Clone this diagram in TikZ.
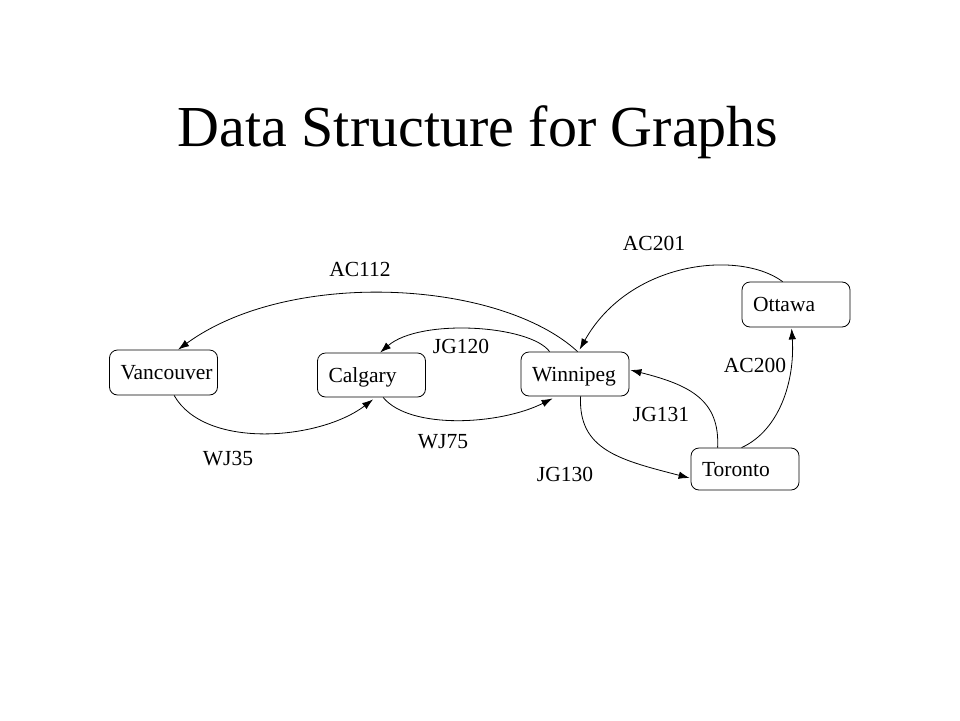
\documentclass[tikz,border=0pt]{standalone}
\usepackage{fontspec}
\setmainfont{Liberation Serif}
\usetikzlibrary{arrows.meta,calc}
\begin{document}
\begin{tikzpicture}[x=1pt,y=-1pt,
  city/.style={draw,rounded corners=8pt,line width=0.8pt,minimum height=44pt,
    text width=86pt,inner xsep=11pt,inner ysep=0pt,text height=16pt,text depth=2pt,
    align=left,font=\fontsize{21.5}{24}\selectfont},
  lbl/.style={font=\fontsize{21.5}{24}\selectfont,inner sep=0pt},
  edge/.style={line width=0.8pt,-{Latex[length=11pt,width=7.5pt]}}]
\useasboundingbox (0,0) rectangle (960,720);
\fill[white] (0,0) rectangle (960,720);
\node[anchor=base,font=\fontsize{58}{64}\selectfont,inner sep=0pt] (title) at (478,146) {Data Structure for Graphs};

\node[city,minimum height=45pt] (van) at (163.5,372.5) {Vancouver};
\node[city] (cal) at (371.5,375) {Calgary};
\node[city] (win) at (575,374) {Winnipeg};
\node[city,minimum height=45pt] (ott) at (796,304.5) {Ottawa};
\node[city,minimum height=42pt] (tor) at (745,469) {Toronto};

% AC112
\draw[edge] ($(win.north west)+(57,0)$) .. controls (500,280) and (290,268) .. ($(van.north west)+(69,0)$);
% JG120
\draw[edge] ($(win.north west)+(29,0)$) .. controls (530,325) and (420,318) .. ($(cal.north west)+(63,0)$);
% WJ35
\draw[edge] ($(van.south west)+(65,0)$) .. controls (205,450) and (320,440) .. ($(cal.south west)+(56,2)$);
% WJ75
\draw[edge] ($(cal.south west)+(66,0)$) .. controls (410,430) and (500,425) .. ($(win.south west)+(32,2)$);
% JG130
\draw[edge] ($(win.south west)+(60,0)$) .. controls (578,450) and (620,460) .. ($(tor.west)+(-1,9)$);
% JG131
\draw[edge] ($(tor.north west)+(27,0)$) .. controls (720,400) and (690,385) .. ($(win.east)+(1,-4)$);
% AC200
\draw[edge] ($(tor.north west)+(51,0)$) .. controls (780,430) and (795,380) .. ($(ott.south west)+(50,1)$);
% AC201
\draw[edge] ($(ott.north west)+(41,0)$) .. controls (740,250) and (630,260) .. ($(win.north west)+(59,-2)$);

\node[lbl] (l1) at (360,269) {AC112};
\node[lbl] (l2) at (461,346) {JG120};
\node[lbl] (l3) at (228,459) {WJ35};
\node[lbl] (l4) at (443,442) {WJ75};
\node[lbl] (l5) at (565,474) {JG130};
\node[lbl] (l6) at (661,414) {JG131};
\node[lbl] (l7) at (755,365) {AC200};
\node[lbl] (l8) at (654,243) {AC201};
\end{tikzpicture}
\end{document}
